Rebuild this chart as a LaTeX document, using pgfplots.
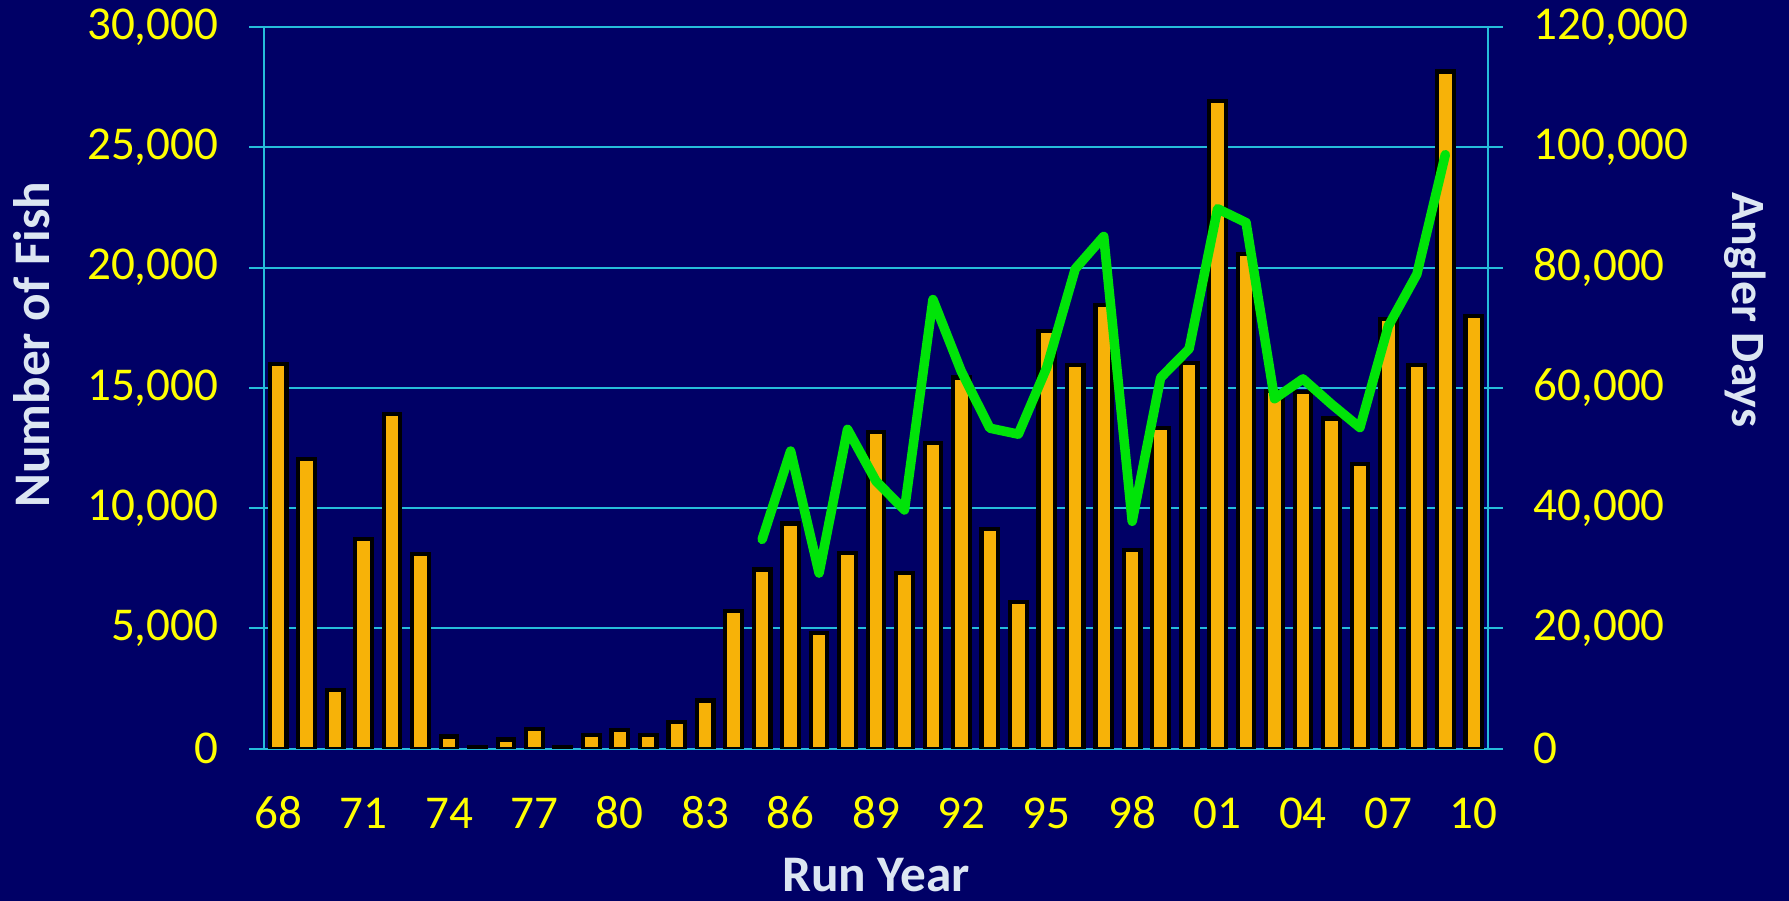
\documentclass[border=0pt]{standalone}
\usepackage{fontspec}
\usepackage{pgfplots}
\usepackage{pgfplotstable}
\pgfplotsset{compat=1.18}
\setmainfont{Carlito}
\newfontfamily\calfont{Carlito}
\definecolor{bg}{RGB}{0,0,102}
\definecolor{gridc}{RGB}{38,188,218}
\definecolor{barc}{RGB}{247,178,8}
\definecolor{linec}{RGB}{0,228,8}
\definecolor{labc}{RGB}{220,230,242}
\definecolor{tickc}{RGB}{255,255,0}

\pgfplotstableread{
x y
0 16000
1 12050
2 2450
3 8700
4 13900
5 8100
6 500
7 50
8 380
9 810
10 60
11 570
12 760
13 570
14 1120
15 2000
16 5710
17 7450
18 9360
19 4800
20 8120
21 13180
22 7310
23 12700
24 15430
25 9120
26 6110
27 17360
28 15950
29 18440
30 8260
31 13330
32 16050
33 26940
34 20560
35 14880
36 14830
37 13730
38 11850
39 17860
40 15950
41 28160
42 17980
}\fish

\pgfplotstableread{
x y
17 34800
18 49500
19 29200
20 53100
21 44500
22 39700
23 74700
24 62700
25 53300
26 52300
27 63400
28 79800
29 85200
30 37800
31 61700
32 66500
33 89800
34 87500
35 58200
36 61500
37 57300
38 53400
39 70300
40 78900
41 98800
}\angler

\begin{document}
\begin{tikzpicture}
\fill[bg] (-26.4mm,-15.2mm) rectangle (152.5mm,74.86mm);
\pgfplotsset{
  common/.style={
    at={(0,0)}, anchor=south west,
    scale only axis, width=122.4mm, height=72.14mm,
    xmin=-0.5, xmax=42.5,
    axis line style={draw=gridc, line width=0.2mm},
    tick align=outside, major tick length=1.5mm,
    ytick style={draw=gridc, line width=0.2mm},
    xtick style={draw=none},
    scaled y ticks=false,
    /pgf/number format/.cd, 1000 sep={,}, fixed, assume math mode=true,
    /pgfplots/.cd,
    tick label style={font=\calfont\fontsize{13.4pt}{15pt}\selectfont, text=tickc},
  }
}
\begin{axis}[common,
  ymin=0, ymax=30000,
  ytick={0,5000,...,30000},
  ytick pos=left,
  xtick={0,3,...,42},
  xticklabels={68,71,74,77,80,83,86,89,92,95,98,01,04,07,10},
  ymajorgrids, grid style={draw=gridc, line width=0.2mm},
  yticklabel style={anchor=east, inner sep=0pt, xshift=-3mm},
  xticklabel style={anchor=base, inner sep=0pt, yshift=-6.5mm},
]
\addplot[ybar, bar width=1.66mm, fill=barc, draw=black, line width=0.42mm] table {\fish};
\end{axis}
\begin{axis}[common,
  ymin=0, ymax=120000,
  ytick={0,20000,...,120000},
  axis x line=none, axis y line*=right,
  ytick pos=right,
  yticklabel style={anchor=west, inner sep=0pt, xshift=3mm},
]
\addplot[linec, line width=0.95mm, line join=round, line cap=round] table {\angler};
\end{axis}
\node[rotate=90, font=\calfont\bfseries\fontsize{14.6pt}{16pt}\selectfont, text=labc] at (-23.2mm,40.4mm) {Number of Fish};
\node[rotate=-90, font=\calfont\bfseries\fontsize{13.6pt}{16pt}\selectfont, text=labc] at (148.1mm,43.9mm) {Angler Days};
\node[anchor=base, font=\calfont\bfseries\fontsize{14.6pt}{16pt}\selectfont, text=labc] at (61.2mm,-14.3mm) {Run Year};
\pgfresetboundingbox
\useasboundingbox (-26.4mm,-15.2mm) rectangle (152.5mm,74.86mm);
\end{tikzpicture}
\end{document}
